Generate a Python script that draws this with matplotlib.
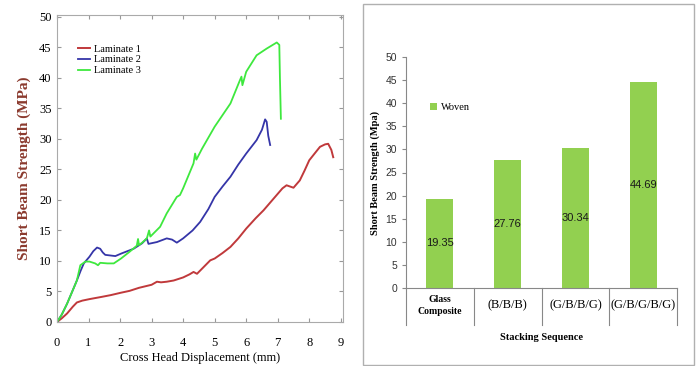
import matplotlib as mpl
mpl.use('Agg')
import matplotlib.pyplot as plt
from matplotlib.patches import Rectangle
import numpy as np

# left panel: load-displacement curves
lam1_x = [0, 0.15, 0.32, 0.5, 0.63, 0.8, 1.03, 1.4, 1.7, 2.03, 2.3, 2.6, 3.0, 3.17, 3.3, 3.48, 3.7, 4.0, 4.2, 4.33, 4.44, 4.65, 4.86, 5.0, 5.25, 5.5, 5.75, 6.0, 6.3, 6.55, 6.8, 7.0, 7.15, 7.28, 7.5, 7.7, 7.85, 8.0, 8.2, 8.34, 8.5, 8.6, 8.7, 8.76]
lam1_y = [0, 0.6, 1.4, 2.5, 3.2, 3.5, 3.75, 4.1, 4.4, 4.8, 5.1, 5.6, 6.1, 6.6, 6.5, 6.6, 6.8, 7.3, 7.8, 8.2, 7.9, 9.0, 10.1, 10.4, 11.3, 12.3, 13.7, 15.3, 17.0, 18.3, 19.8, 21.0, 21.9, 22.4, 22.0, 23.2, 24.8, 26.5, 27.8, 28.7, 29.1, 29.2, 28.2, 27.0]

lam2_x = [0, 0.15, 0.32, 0.5, 0.63, 0.75, 0.85, 1.03, 1.15, 1.27, 1.37, 1.45, 1.53, 1.85, 2.03, 2.43, 2.7, 2.85, 2.9, 3.17, 3.48, 3.65, 3.8, 4.0, 4.3, 4.54, 4.8, 5.0, 5.25, 5.5, 5.75, 6.0, 6.33, 6.5, 6.6, 6.65, 6.7, 6.76]
lam2_y = [0, 1.2, 3.0, 5.2, 6.8, 8.4, 9.6, 10.7, 11.6, 12.2, 12.0, 11.4, 11.0, 10.8, 11.2, 12.0, 12.9, 13.7, 12.8, 13.1, 13.7, 13.5, 13.0, 13.7, 15.0, 16.4, 18.5, 20.5, 22.2, 23.8, 25.8, 27.6, 29.8, 31.5, 33.2, 32.8, 30.5, 29.0]

lam3_x = [0, 0.15, 0.32, 0.5, 0.63, 0.74, 0.9, 1.03, 1.21, 1.3, 1.37, 1.6, 1.8, 2.03, 2.3, 2.53, 2.57, 2.6, 2.7, 2.85, 2.92, 2.96, 3.0, 3.27, 3.48, 3.8, 3.9, 4.0, 4.33, 4.38, 4.42, 4.6, 5.0, 5.5, 5.8, 5.85, 5.88, 6.0, 6.33, 6.65, 6.97, 7.05, 7.07, 7.1]
lam3_y = [0, 1.2, 3.0, 5.2, 6.8, 9.3, 9.9, 9.9, 9.6, 9.3, 9.7, 9.6, 9.6, 10.4, 11.5, 12.5, 13.6, 12.6, 13.0, 13.7, 15.0, 14.0, 14.2, 15.6, 17.8, 20.5, 20.8, 21.9, 26.0, 27.6, 26.6, 28.4, 32.0, 35.8, 39.6, 40.2, 38.8, 41.0, 43.7, 44.8, 45.8, 45.4, 40.0, 33.3]

# right panel: bar chart
categories = ['Glass\nComposite', '(B/B/B)', '(G/B/B/G)', '(G/B/G/B/G)']
strength = [19.35, 27.76, 30.34, 44.69]

fig = plt.figure(figsize=(6.97, 3.66), dpi=100)

serif = 'Liberation Serif'
narrow = ['Liberation Sans Narrow', 'Liberation Sans', 'DejaVu Sans']

# ---- left panel ----
ax1 = fig.add_axes([57/697, 1 - 322/366, 286/697, 307/366])
ax1.plot(lam1_x, lam1_y, color='#c0393b', lw=1.4, label='Laminate 1')
ax1.plot(lam2_x, lam2_y, color='#3535a8', lw=1.3, label='Laminate 2')
ax1.plot(lam3_x, lam3_y, color='#3ee83e', lw=1.3, label='Laminate 3')
ax1.set_xlim(0, 9.07)
ax1.set_ylim(0, 50.3)
ax1.set_xticks(range(0, 10))
ax1.set_yticks(range(0, 51, 5))
ax1.tick_params(direction='in', length=3, color='#999999', top=True, right=True,
                labelsize=9, pad=4)
ax1.tick_params(axis='x', pad=11)
for lab in ax1.get_xticklabels() + ax1.get_yticklabels():
    lab.set_family(serif)
for sp in ax1.spines.values():
    sp.set_color('#aaaaaa')
ax1.set_ylabel('Short Beam Strength (MPa)', family=serif, fontweight='bold',
               color='#8b3a2e', fontsize=11, labelpad=6)
ax1.set_xlabel('Cross Head Displacement (mm)', family=serif, fontsize=9, labelpad=2)
ax1.legend(loc='upper left', bbox_to_anchor=(0.04, 0.935), frameon=False,
           prop={'family': serif, 'size': 7.5}, handlelength=1.2,
           labelspacing=0.15, handletextpad=0.4)

# ---- right panel ----
fig.patches.append(Rectangle((363/697, 1 - 365/366), 331/697, 361/366,
                             transform=fig.transFigure, fill=False,
                             edgecolor='#b0b0b0', lw=1))
ax2 = fig.add_axes([406/697, 1 - 288/366, 271/697, 231/366])
x = np.arange(len(categories))
ax2.bar(x, strength, width=0.4, color='#92d050', label='Woven')
for xi, v in zip(x, strength):
    ax2.text(xi, v / 2, f'{v:.2f}', ha='center', va='center', fontsize=8,
             color='#1a1a1a', family=narrow)
ax2.set_xlim(-0.5, len(categories) - 0.5)
ax2.set_ylim(0, 50)
ax2.set_yticks(range(0, 51, 5))
ax2.set_xticks([])
ax2.tick_params(axis='y', direction='out', length=3, color='#888888',
                labelsize=7.5, labelcolor='#333333')
for lab in ax2.get_yticklabels():
    lab.set_family(narrow)
for s in ['top', 'right']:
    ax2.spines[s].set_visible(False)
ax2.spines['left'].set_color('#888888')
ax2.spines['bottom'].set_color('#888888')
# category separators below axis
for b in np.arange(-0.5, len(categories), 1.0):
    ax2.plot([b, b], [0, -0.16], transform=ax2.get_xaxis_transform(),
             color='#888888', lw=0.8, clip_on=False)
for xi, c in zip(x, categories):
    if '\n' in c:
        ax2.text(xi, -0.075, c, transform=ax2.get_xaxis_transform(), ha='center',
                 va='center', family=serif, fontsize=7, fontweight='bold',
                 linespacing=1.5)
    else:
        ax2.text(xi, -0.075, c, transform=ax2.get_xaxis_transform(), ha='center',
                 va='center', family=serif, fontsize=9)
ax2.text(0.5, -0.215, 'Stacking Sequence', transform=ax2.transAxes, ha='center',
         va='center', family=serif, fontsize=7.5, fontweight='bold')
ax2.set_ylabel('Short Beam Strength (Mpa)', family=serif, fontweight='bold',
               fontsize=7.5, labelpad=4)
ax2.legend(loc='upper left', bbox_to_anchor=(0.055, 0.84), frameon=False,
           prop={'family': serif, 'size': 7.5}, handlelength=0.6,
           handleheight=0.6, handletextpad=0.4)

fig.savefig('out.png', dpi=100)
